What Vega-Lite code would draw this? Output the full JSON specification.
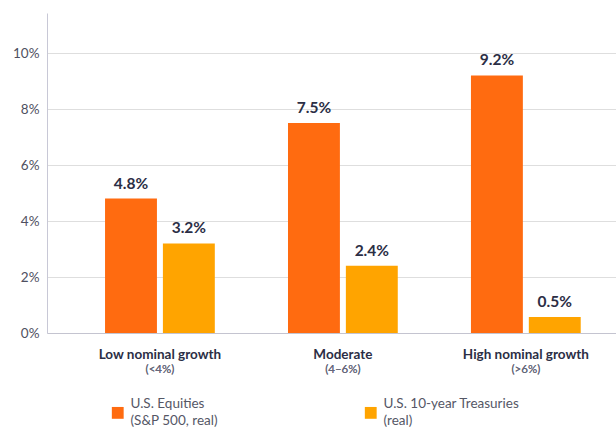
{
  "$schema": "https://vega.github.io/schema/vega-lite/v6.json",
  "width": 569,
  "height": 320,
  "autosize": {"type": "none"},
  "padding": {"left": 47, "top": 13, "right": 0, "bottom": 95},
  "background": "#ffffff",
  "config": {
    "font": "Lato",
    "view": {"stroke": null}
  },
  "data": {
    "values": [
      {"group": "Low nominal growth", "sub": "(<4%)", "series": "U.S. Equities", "value": 4.8, "label": "4.8%"},
      {"group": "Low nominal growth", "sub": "(<4%)", "series": "U.S. 10-year Treasuries", "value": 3.2, "label": "3.2%"},
      {"group": "Moderate", "sub": "(4–6%)", "series": "U.S. Equities", "value": 7.5, "label": "7.5%"},
      {"group": "Moderate", "sub": "(4–6%)", "series": "U.S. 10-year Treasuries", "value": 2.4, "label": "2.4%"},
      {"group": "High nominal growth", "sub": "(>6%)", "series": "U.S. Equities", "value": 9.2, "label": "9.2%"},
      {"group": "High nominal growth", "sub": "(>6%)", "series": "U.S. 10-year Treasuries", "value": 0.57, "label": "0.5%"}
    ]
  },
  "encoding": {
    "x": {
      "field": "group",
      "type": "nominal",
      "sort": ["Low nominal growth", "Moderate", "High nominal growth"],
      "scale": {"paddingInner": 0.4, "paddingOuter": 0.255, "align": 0.622},
      "axis": {
        "title": null,
        "labelAngle": 0,
        "ticks": false,
        "domainColor": "#c4c4d0",
        "labelFont": "Lato",
        "labelFontWeight": "bold",
        "labelFontSize": 13.5,
        "labelColor": "#2b2e45",
        "labelPadding": 14
      }
    }
  },
  "layer": [
    {
      "mark": {"type": "bar"},
      "encoding": {
        "xOffset": {
          "field": "series",
          "type": "nominal",
          "sort": ["U.S. Equities", "U.S. 10-year Treasuries"],
          "scale": {"paddingInner": 0.103, "paddingOuter": 0}
        },
        "y": {
          "field": "value",
          "type": "quantitative",
          "scale": {"domain": [0, 11.43], "nice": false, "zero": true},
          "axis": {
            "title": null,
            "values": [0, 2, 4, 6, 8, 10],
            "labelExpr": "datum.value + '%'",
            "ticks": false,
            "grid": true,
            "gridColor": "#dedede",
            "domainColor": "#c8c8d6",
            "labelColor": "#4f5060",
            "labelFontSize": 13.5,
            "labelPadding": 8
          }
        },
        "color": {
          "field": "series",
          "type": "nominal",
          "scale": {
            "domain": ["U.S. Equities", "U.S. 10-year Treasuries"],
            "range": ["#ff6b10", "#ffa400"]
          },
          "legend": {
            "title": null,
            "orient": "none",
            "legendX": 64,
            "legendY": 393,
            "direction": "horizontal",
            "columns": 2,
            "columnPadding": 146,
            "symbolType": "square",
            "symbolSize": 140,
            "symbolStrokeWidth": 0,
            "labelFontSize": 13.5,
            "labelColor": "#555766",
            "labelOffset": 6,
            "labelLimit": 300,
            "labelExpr": "datum.label == 'U.S. Equities' ? ['U.S. Equities', '(S&P 500, real)'] : ['U.S. 10-year Treasuries', '(real)']",
            "encode": {"labels": {"update": {"lineHeight": {"value": 17}, "dy": {"value": -8.5}}}}
          }
        }
      }
    },
    {
      "mark": {"type": "text", "dy": -7, "baseline": "bottom", "fontSize": 15.5, "fontWeight": "bold", "color": "#2b2e45"},
      "encoding": {
        "xOffset": {
          "field": "series",
          "type": "nominal",
          "sort": ["U.S. Equities", "U.S. 10-year Treasuries"],
          "scale": {"paddingInner": 0.103, "paddingOuter": 0}
        },
        "y": {"field": "value", "type": "quantitative"},
        "text": {"field": "label"}
      }
    },
    {
      "mark": {"type": "text", "baseline": "middle", "fontSize": 11.5, "color": "#66687a"},
      "encoding": {
        "y": {"datum": -1.32},
        "text": {"field": "sub"}
      }
    }
  ]
}
